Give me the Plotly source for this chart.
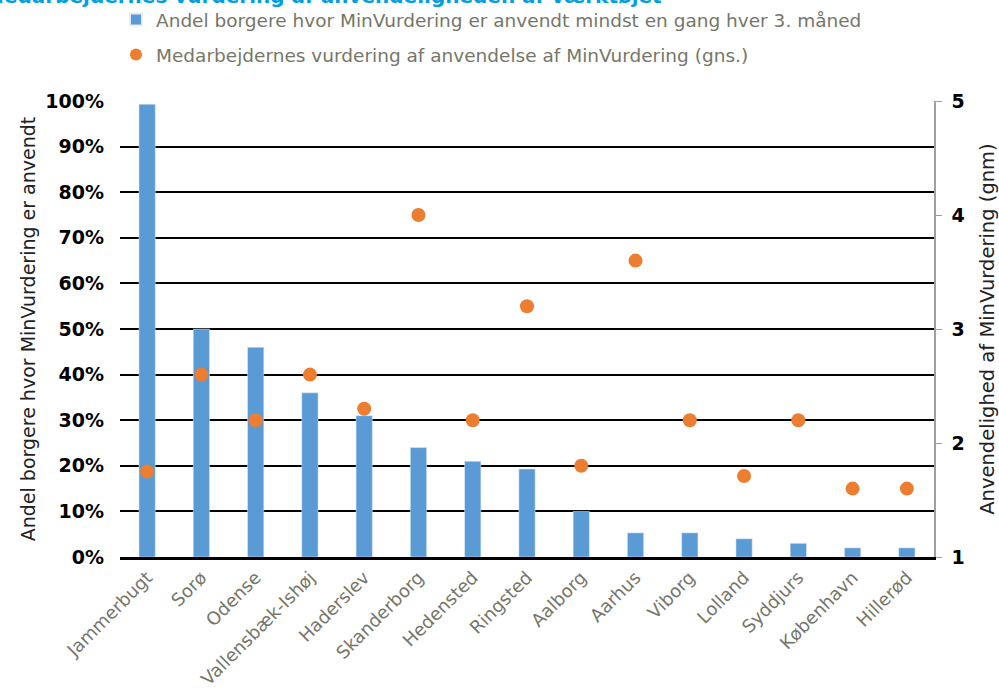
import plotly.graph_objects as go

categories = ["Jammerbugt", "Sorø", "Odense", "Vallensbæk-Ishøj", "Haderslev", "Skanderborg",
              "Hedensted", "Ringsted", "Aalborg", "Aarhus", "Viborg", "Lolland", "Syddjurs",
              "København", "Hillerød"]
andel = [0.993, 0.50, 0.46, 0.36, 0.31, 0.24, 0.21, 0.193, 0.10, 0.053, 0.053, 0.04, 0.03, 0.02, 0.02]
vurdering = [1.75, 2.6, 2.2, 2.6, 2.3, 4.0, 2.2, 3.2, 1.8, 3.6, 2.2, 1.71, 2.2, 1.6, 1.6]

bar_name = "Andel borgere hvor MinVurdering er anvendt mindst en gang hver 3. måned"
dot_name = "Medarbejdernes vurdering af anvendelse af MinVurdering (gns.)"
title_text = "Medarbejdernes vurdering af anvendeligheden af værktøjet"

font_family = "DejaVu Sans, Verdana, sans-serif"
grey = "#767668"

fig = go.Figure()
fig.add_trace(go.Bar(x=categories, y=andel, name=bar_name, marker_color="#5B9BD5",
                     width=0.3, yaxis="y", legendgroup="a"))
fig.add_trace(go.Scatter(x=categories, y=vurdering, name=dot_name, mode="markers",
                         marker=dict(color="#ED7D31", size=14), yaxis="y2", legendgroup="b"))

fig.add_annotation(text="<b>" + title_text + "</b>", xref="paper", yref="paper",
                   x=0, y=1, xshift=-138, yshift=91, xanchor="left", yanchor="bottom",
                   showarrow=False, font=dict(size=20, color="#00A0E0", family=font_family))

fig.update_layout(
    width=999, height=693,
    margin=dict(l=120, r=65, t=101, b=136, autoexpand=False),
    paper_bgcolor="white", plot_bgcolor="white",
    font=dict(family=font_family, color=grey),
    showlegend=True,
    legend=dict(x=(116 - 120) / 814, xref="paper", y=1 + (101 - 1) / 456, yref="paper",
                yanchor="top", xanchor="left", orientation="v", tracegroupgap=8,
                itemsizing="constant",
                font=dict(size=18.5, color=grey), bgcolor="rgba(0,0,0,0)"),
    xaxis=dict(range=[-0.5, 14.5], tickangle=-45, tickfont=dict(size=18, color=grey),
               showgrid=False, showline=True, linecolor="black", linewidth=3, ticks="",
               zeroline=False),
    yaxis=dict(range=[0, 1], dtick=0.1, tickformat=".0%", showgrid=True, gridcolor="black",
               gridwidth=1.5, zeroline=False, showline=False,
               tickfont=dict(size=19, color="black", family=font_family),
               title=dict(text="Andel borgere hvor MinVurdering er anvendt",
                          font=dict(size=19, color="#222222"), standoff=4),
               ticklabelstandoff=15),
    yaxis2=dict(range=[1, 5], dtick=1, overlaying="y", side="right", showgrid=False,
                zeroline=False, showline=True, linecolor="#A0A0A0", linewidth=1.5,
                ticks="outside", tickcolor="#A0A0A0", ticklen=6, ticklabelstandoff=6,
                tickfont=dict(size=19, color="black", family=font_family),
                title=dict(text="Anvendelighed af MinVurdering (gnm)",
                           font=dict(size=19.5, color="#222222"), standoff=18)),
)
fig.update_yaxes(tickprefix="<b>", ticksuffix="</b>")

fig.write_html("out.html")
